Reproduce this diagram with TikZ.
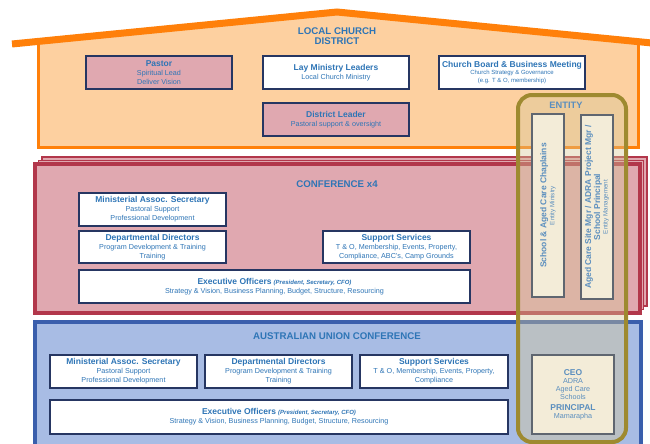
\documentclass[tikz,border=0pt]{standalone}
\usepackage{fontspec}
\setmainfont{Liberation Sans}
\usetikzlibrary{positioning}

\definecolor{txtblue}{RGB}{46,117,182}
\definecolor{entblue}{RGB}{90,142,190}
\definecolor{navy}{RGB}{38,54,98}
\definecolor{boxpink}{RGB}{224,168,176}
\definecolor{housefill}{RGB}{253,208,160}
\definecolor{houseline}{RGB}{255,128,10}
\definecolor{confred}{RGB}{178,55,75}
\definecolor{aucfill}{RGB}{168,188,228}
\definecolor{aucline}{RGB}{58,94,172}
\definecolor{entline}{RGB}{158,138,48}
\definecolor{entfill}{RGB}{215,200,150}
\definecolor{entcream}{RGB}{243,236,216}
\definecolor{entboxline}{RGB}{95,102,112}

\newcommand{\ttl}[1]{{\fontsize{8.5}{9}\selectfont\bfseries #1}}
\newcommand{\who}[1]{{\fontsize{6}{9}\selectfont\bfseries\itshape #1}}

\tikzset{
  box/.style={draw=navy, line width=1.4pt, inner sep=0pt, outer sep=0pt,
    align=center, text=txtblue, font=\fontsize{7.2}{9}\selectfont,
    minimum width=146pt, minimum height=33pt},
  pinkbox/.style={box, fill=boxpink},
  whitebox/.style={box, fill=white},
  entbox/.style={draw=entboxline, line width=1.2pt, fill=entcream, inner sep=0pt,
    outer sep=0pt, align=center, text=entblue, font=\fontsize{7.2}{8}\selectfont},
  heading/.style={text=txtblue, font=\fontsize{9.7}{10}\selectfont\bfseries,
    align=center, inner sep=0pt},
}

\begin{document}
\begin{tikzpicture}[x=1pt, y=-1pt]
    \useasboundingbox (0,0) rectangle (650,444);
    \clip (0,0) rectangle (650,444);

    \fill[housefill] (38,42) -- (337,12) -- (638,42) -- (638,147) -- (38,147) -- cycle;
    \draw[houseline, line width=3pt] (38,44) -- (38,147) -- (638,147) -- (638,44);
    \draw[houseline, line width=7pt] (12,44) -- (337,12) -- (662,44);

    \foreach \d in {7,3.5}
      \draw[confred, fill=boxpink, line width=1.2pt] (35+\d,164-\d) rectangle (640+\d,313-\d);
    \draw[confred, fill=boxpink, line width=3.5pt] (35,164) rectangle (640,313);

    \draw[aucline, fill=aucfill, line width=3.5pt] (35,322) rectangle (641,470);

    \node[heading] (local) at (337,36) {LOCAL CHURCH\\DISTRICT};
    \node[pinkbox] (pastor) at (159,72.5) {\ttl{Pastor}\\Spiritual Lead\\Deliver Vision};
    \node[whitebox, right=31pt of pastor] (lay) {\ttl{Lay Ministry Leaders}\\Local Church Ministry};
    \node[whitebox, right=30pt of lay, font=\fontsize{6}{7.5}\selectfont] (board)
      {\ttl{Church Board \& Business Meeting}\\Church Strategy \& Governance\\(e.g. T \& O, membership)};
    \node[pinkbox, below=14pt of lay] (dl) {\ttl{District Leader}\\Pastoral support \& oversight};

    \node[heading] (conf) at (337,184.5) {CONFERENCE x4};
    \node[whitebox, minimum width=147pt] (cmas) at (152.5,209.5)
      {\ttl{Ministerial Assoc. Secretary}\\Pastoral Support\\Professional Development};
    \node[whitebox, minimum width=147pt, minimum height=32pt, below=5pt of cmas] (cdd)
      {\ttl{Departmental Directors}\\Program Development \& Training\\Training};
    \node[whitebox, minimum width=147pt, minimum height=32pt, right=97pt of cdd] (css)
      {\ttl{Support Services}\\T \& O, Membership, Events, Property,\\Compliance, ABC's, Camp Grounds};
    \node[whitebox, minimum width=391pt] (cexec) at (274.5,286.5)
      {\ttl{Executive Officers} \who{(President, Secretary, CFO)}\\Strategy \& Vision, Business Planning, Budget, Structure, Resourcing};

    \node[heading] (auc) at (337,336) {AUSTRALIAN UNION CONFERENCE};
    \node[whitebox, minimum width=147pt] (amas) at (123.5,371.5)
      {\ttl{Ministerial Assoc. Secretary}\\Pastoral Support\\Professional Development};
    \node[whitebox, minimum width=147pt, right=8pt of amas] (add)
      {\ttl{Departmental Directors}\\Program Development \& Training\\Training};
    \node[whitebox, minimum width=148pt, right=8pt of add] (ass)
      {\ttl{Support Services}\\T \& O, Membership, Events, Property,\\Compliance};
    \node[whitebox, minimum width=458pt, minimum height=34pt] (aexec) at (279,417)
      {\ttl{Executive Officers} \who{(President, Secretary, CFO)}\\Strategy \& Vision, Business Planning, Budget, Structure, Resourcing};

    \draw[entline, line width=4pt, fill=entfill, fill opacity=0.4, rounded corners=14pt]
      (518,95) rectangle (626,442);
    \node[heading, text=entblue, font=\fontsize{9.3}{10}\selectfont\bfseries] (entity) at (566,105) {ENTITY};
    \node[entbox, rotate=90, minimum width=183pt, minimum height=32pt,
      font=\fontsize{6.3}{8}\selectfont] (chap) at (548,205.5)
      {\ttl{School \& Aged Care Chaplains}\\Entity Ministry};
    \node[entbox, rotate=90, minimum width=184pt, minimum height=32pt,
      font=\fontsize{6.3}{7.5}\selectfont] (mgr) at (597,207)
      {\ttl{Aged Care Site Mgr / ADRA Project Mgr /}\\\ttl{School Principal}\\Entity Management};
    \node[entbox, minimum width=82pt, minimum height=79pt] (ceo) at (573,394.5)
      {\ttl{CEO}\\ADRA\\Aged Care\\Schools\\[3pt]\ttl{PRINCIPAL}\\Mamarapha};
\end{tikzpicture}
\end{document}
